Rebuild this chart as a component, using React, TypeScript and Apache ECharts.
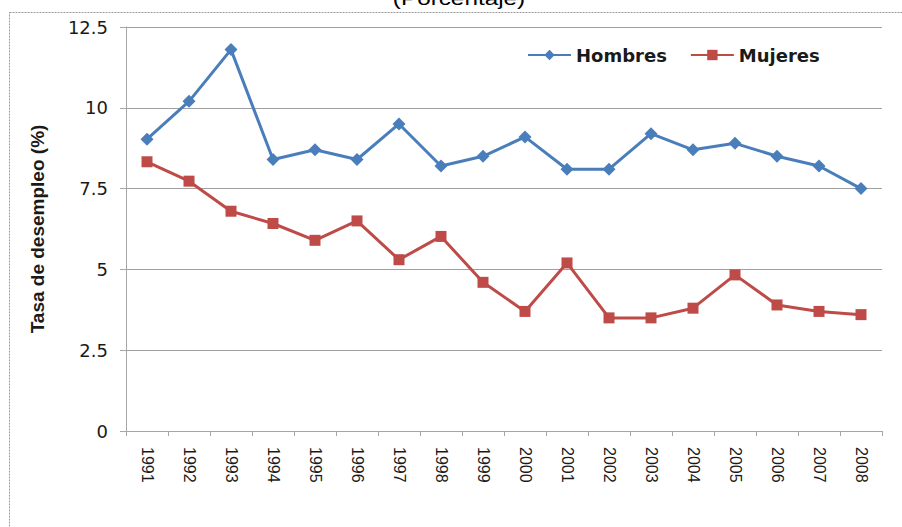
import React, { useEffect, useRef } from "react";
import * as echarts from "echarts";

const years = ["1991","1992","1993","1994","1995","1996","1997","1998","1999","2000","2001","2002","2003","2004","2005","2006","2007","2008"];
const hombres = [9.03, 10.2, 11.8, 8.4, 8.7, 8.4, 9.5, 8.2, 8.5, 9.1, 8.1, 8.1, 9.2, 8.7, 8.9, 8.5, 8.2, 7.5];
const mujeres = [8.33, 7.73, 6.8, 6.42, 5.9, 6.5, 5.3, 6.02, 4.6, 3.7, 5.2, 3.5, 3.5, 3.8, 4.83, 3.9, 3.7, 3.6];
const yTicks = [0, 2.5, 5, 7.5, 10, 12.5];

const FONT = "Liberation Sans, Arial, sans-serif";
const WIDE = "DejaVu Sans, Verdana, sans-serif";

export default function App() {
  const ref = useRef<HTMLDivElement>(null);
  useEffect(() => {
    if (!ref.current) return;
    const chart = echarts.init(ref.current, null, { renderer: "svg" });
    chart.setOption({
      animation: false,
      backgroundColor: "#ffffff",
      textStyle: { fontFamily: FONT },
      graphic: [
        {
          type: "rect",
          shape: { x: 9.5, y: 12.5, width: 1000, height: 1000 },
          style: { fill: "none", stroke: "#9a9a9a", lineWidth: 1, lineDash: [2, 1] },
          silent: true,
        },
        {
          type: "text",
          x: 459,
          y: -10,
          scaleX: 1.35,
          style: { text: "(Porcentaje)", font: `18px ${FONT}`, fill: "#000", align: "center", verticalAlign: "top" },
        },
      ],
      legend: {
        top: 46,
        left: 527,
        padding: 0,
        itemWidth: 43,
        itemHeight: 13,
        itemGap: 23,
        textStyle: { fontFamily: WIDE, fontSize: 18, fontWeight: "bold", color: "#1a1a1a" },
        data: ["Hombres", "Mujeres"],
      },
      grid: { left: 126, top: 27, right: 20, bottom: 96 },
      xAxis: {
        type: "category",
        data: years,
        boundaryGap: true,
        axisLine: { lineStyle: { color: "#a6a6a6", width: 1 } },
        axisTick: { show: true, length: 5, lineStyle: { color: "#a6a6a6" } },
        axisLabel: { rotate: -90, margin: 16, fontSize: 16, color: "#1a1a1a", fontFamily: FONT, interval: 0 },
      },
      yAxis: {
        type: "value",
        min: yTicks[0],
        max: yTicks[yTicks.length - 1],
        interval: 2.5,
        name: "Tasa de desempleo (%)",
        nameLocation: "middle",
        nameGap: 79,
        nameTextStyle: { fontFamily: FONT, fontSize: 19, fontWeight: "bold", color: "#1a1a1a" },
        axisLine: { show: true, lineStyle: { color: "#a6a6a6", width: 1 } },
        axisTick: { show: true, length: 6, lineStyle: { color: "#a6a6a6" } },
        axisLabel: { margin: 18, fontSize: 18, color: "#1a1a1a", fontFamily: WIDE },
        splitLine: { show: true, lineStyle: { color: "#a0a0a0", width: 1 } },
      },
      series: [
        {
          name: "Hombres",
          type: "line",
          data: hombres,
          symbol: "diamond",
          symbolSize: 13,
          lineStyle: { color: "#4A7EBB", width: 3 },
          itemStyle: { color: "#4A7EBB" },
        },
        {
          name: "Mujeres",
          type: "line",
          data: mujeres,
          symbol: "rect",
          symbolSize: 11,
          lineStyle: { color: "#BE4B48", width: 3 },
          itemStyle: { color: "#BE4B48" },
        },
      ],
    });
    return () => chart.dispose();
  }, []);
  return (
    <div
      ref={ref}
      style={{ position: "fixed", left: 0, top: 0, width: 902, height: 527 }}
    />
  );
}
